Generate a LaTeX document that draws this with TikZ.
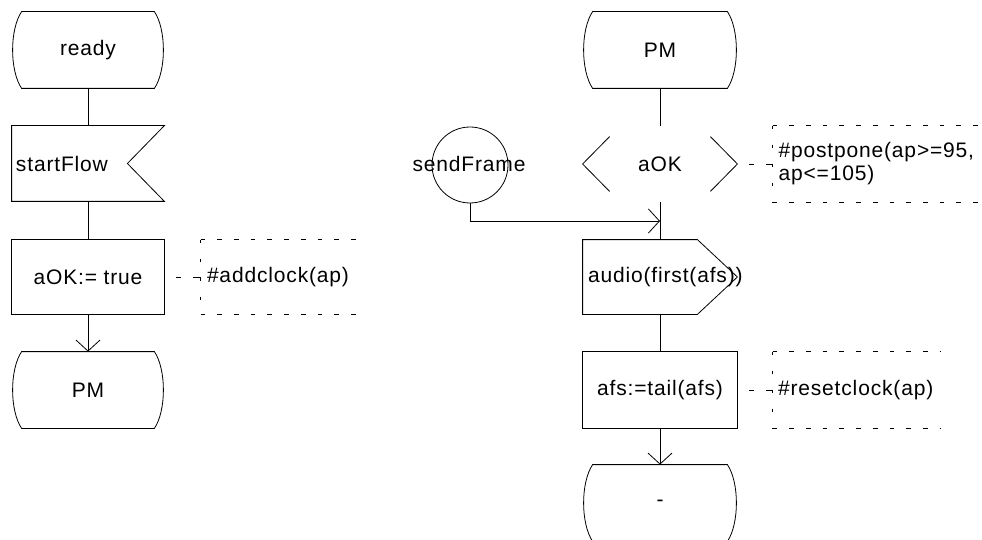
\documentclass[tikz,border=0pt]{standalone}
\usepackage{fontspec}
\setmainfont[LetterSpace=4]{Liberation Sans}
\usetikzlibrary{arrows.meta}
\newcommand\stateshape[1]{%
  \draw ([xshift=10pt]#1.north west) -- ([xshift=-10pt]#1.north east)
    .. controls ([xshift=2pt,yshift=-18pt]#1.north east) and ([xshift=2pt,yshift=18pt]#1.south east) .. ([xshift=-10pt]#1.south east)
    -- ([xshift=10pt]#1.south west)
    .. controls ([xshift=-2pt,yshift=18pt]#1.south west) and ([xshift=-2pt,yshift=-18pt]#1.north west) .. cycle;}
\newcommand\commentbracket[1]{%
  \draw[hdash] (#1.north west) -- (#1.north east);
  \draw[hdash] (#1.south west) -- (#1.south east);
  \draw[vdash] (#1.north west) -- (#1.south west);}
\begin{document}
\begin{tikzpicture}[x=1pt,y=-1pt,line width=0.8pt,
  every node/.style={font=\fontsize{21}{23}\selectfont, inner sep=0pt},
  lblk/.style={minimum width=152pt,minimum height=#1},
  rblk/.style={minimum width=154pt,minimum height=#1},
  flow/.style={-{Straight Barb[length=11pt,width=24pt]}},
  link/.style={dash pattern=on 0pt off 12pt on 5pt off 12pt on 8pt},
  hdash/.style={dash pattern=on 4.7pt off 12pt},
  vdash/.style={dash pattern=on 3pt off 16pt}]
\useasboundingbox (0,0) rectangle (982,540);

% left column
\node[lblk=76pt] (ready) at (88,50) {ready};
\node[lblk=75pt,text width=144pt,align=left] (startFlow) at (88,163.5) {\mbox{startFlow}};
\node[lblk=74pt] (assign) at (88,277) {aOK:= true};
\node[lblk=76pt] (pmL) at (88,390) {PM};
\node[minimum width=159pt,minimum height=74pt,text width=147pt,align=left] (c1) at (280.5,277) {\mbox{\#addclock(ap)}};

\stateshape{ready}
\draw (startFlow.north west) -- (startFlow.north east) -- ([xshift=-37pt]startFlow.east) -- (startFlow.south east) -- (startFlow.south west) -- cycle;
\draw (assign.north west) rectangle (assign.south east);
\stateshape{pmL}
\commentbracket{c1}

\draw (ready.south) -- (startFlow.north);
\draw (startFlow.south) -- (assign.north);
\draw[flow] (assign.south) -- (pmL.north);
\draw[link] (assign.east) -- (c1.west);

% right column
\node[rblk=76pt] (pmR) at (660,50) {PM};
\node[rblk=76pt] (cond) at (660,164) {aOK};
\node[rblk=74pt,text width=144pt,align=left] (audio) at (660,277) {\mbox{audio(first(afs))}};
\node[rblk=76pt] (afs) at (660,390) {afs:=tail(afs)};
\node[rblk=76pt] (stop) at (660,503) {-};
\node[circle,draw,minimum size=76pt] (sendFrame) at (470,165) {};
\node (sendFrameLabel) at (469,164) {sendFrame};
\node[minimum width=207pt,minimum height=76pt,text width=196pt,align=left] (c2) at (876.5,164) {\mbox{\#postpone(ap>=95,}\\\mbox{ap<=105)}};
\node[minimum width=167pt,minimum height=76pt,text width=157pt,align=left] (c3) at (856.5,390) {\mbox{\#resetclock(ap)}};

\stateshape{pmR}
\draw ([xshift=27pt,yshift=-11pt]cond.north west) -- (cond.west) -- ([xshift=27pt,yshift=11pt]cond.south west);
\draw ([xshift=-27pt,yshift=-11pt]cond.north east) -- (cond.east) -- ([xshift=-27pt,yshift=11pt]cond.south east);
\draw (audio.north west) -- ([xshift=-40pt]audio.north east) -- (audio.east) -- ([xshift=-40pt]audio.south east) -- (audio.south west) -- cycle;
\draw (afs.north west) rectangle (afs.south east);
\stateshape{stop}
\commentbracket{c2}
\commentbracket{c3}

\coordinate (join) at (660,221);
\draw (pmR.south) -- (cond.north);
\draw (cond.south) -- (audio.north);
\draw[flow] (sendFrame.south) |- (join);
\draw (audio.south) -- (afs.north);
\draw[flow] (afs.south) -- (stop.north);
\draw[link] (cond.east) -- (c2.west);
\draw[link] (afs.east) -- (c3.west);
\end{tikzpicture}
\end{document}
